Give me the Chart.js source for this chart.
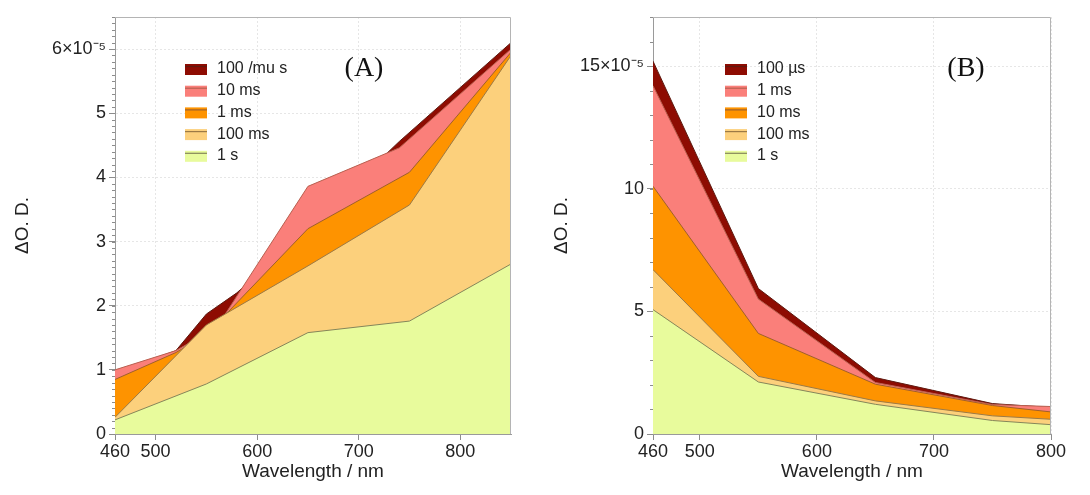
<!DOCTYPE html>
<html><head><meta charset="utf-8">
<script src="https://cdn.jsdelivr.net/npm/chart.js@4.4.1/dist/chart.umd.min.js"></script>
<style>
html,body{margin:0;padding:0;background:#fff}
body{width:1090px;height:495px;overflow:hidden;position:relative}
.box{position:absolute;top:0;width:545px;height:495px}
.tag{position:absolute;font-family:"Liberation Serif","Times New Roman",serif;font-size:28px;color:#111;transform:translate(-50%,-50%);white-space:nowrap}
</style></head><body>
<div class="box" style="left:0"><canvas id="ca" width="545" height="495"></canvas></div>
<div class="box" style="left:545px"><canvas id="cb" width="545" height="495"></canvas></div>
<div class="tag" style="left:364px;top:67px">(A)</div>
<div class="tag" style="left:966px;top:67px">(B)</div>
<script>
// ---------- DATA (ΔO.D. in units of 1e-5) ----------
const labelsA = ['100 /mu s', '10 ms', '1 ms', '100 ms', '1 s'];
const labelsB = ['100 µs', '1 ms', '10 ms', '100 ms', '1 s'];

// Panel A
const wlA_100us = [460, 520, 550, 580, 650, 740, 850];
const odA_100us = [0.95, 1.30, 1.87, 2.20, 3.20, 4.56, 6.10];
const wlA_10ms  = [460, 520, 560, 650, 740, 850];
const odA_10ms  = [1.00, 1.30, 1.66, 3.86, 4.46, 6.00];
const wlA_1ms   = [460, 520, 550, 650, 750, 850];
const odA_1ms   = [0.85, 1.27, 1.55, 3.20, 4.08, 5.95];
const wlA_100ms = [460, 550, 650, 750, 850];
const odA_100ms = [0.26, 1.70, 2.62, 3.57, 5.90];
const wlA_1s    = [460, 550, 650, 750, 850];
const odA_1s    = [0.22, 0.78, 1.58, 1.76, 2.65];

// Panel B
const wlB = [460, 550, 650, 750, 800];
const odB_100us = [15.2, 5.93, 2.30, 1.24, 1.08];
const odB_1ms   = [14.2, 5.50, 2.10, 1.20, 1.12];
const odB_10ms  = [10.1, 4.10, 2.03, 1.16, 0.90];
const odB_100ms = [6.70, 2.35, 1.35, 0.74, 0.60];
const odB_1s    = [5.07, 2.12, 1.21, 0.55, 0.38];

// Tick labels
const xTicksA = [460, 500, 600, 700, 800];
const xTicksB = [460, 500, 600, 700, 800];
const yTicksA = [0, 1, 2, 3, 4, 5, 6];
const yTicksB = [0, 5, 10, 15];
const yTopLabelA = 6, yTopLabelB = 15;
const yMinorStepA = 0.1, yMinorStepB = 1;

// ---------- STYLES ----------
const fills   = ['#8e0c02', '#fa7f7a', '#fe9300', '#fcd07c', '#e8fb9c'];
const strokes = ['#5e1a10', '#b86050', '#a0602a', '#9c7a45', '#85865a'];

Chart.defaults.font.family = '"Liberation Sans", Arial, sans-serif';
Chart.defaults.color = '#222';

function pts(xs, ys) { return xs.map((x, i) => ({x: x, y: ys[i]})); }

function makeDatasets(labels, series) {
  return series.map((s, i) => ({
    label: labels[i],
    data: pts(s[0], s[1]),
    backgroundColor: fills[i],
    borderColor: strokes[i],
    borderWidth: 1,
    pointRadius: 0,
    tension: 0,
    fill: 'origin',
    order: series.length - i   // first listed drawn in back
  }));
}

const decor = {
  id: 'decor',
  afterDraw(chart, args, o) {
    const {ctx, chartArea: ca} = chart;
    const y = chart.scales.y;
    ctx.save();
    // frame top & right
    ctx.strokeStyle = '#b4b4b4'; ctx.lineWidth = 1;
    ctx.beginPath();
    ctx.moveTo(ca.left, ca.top + 0.5); ctx.lineTo(ca.right - 0.5, ca.top + 0.5); ctx.lineTo(ca.right - 0.5, ca.bottom);
    ctx.stroke();
    // minor ticks
    ctx.strokeStyle = '#8c8c8c';
    ctx.beginPath();
    for (let v = 0; v <= y.max + 1e-9; v += o.minorStep) {
      const py = Math.round(y.getPixelForValue(v)) + 0.5;
      ctx.moveTo(ca.left - 3, py); ctx.lineTo(ca.left, py);
    }
    ctx.stroke();
    // legend
    ctx.font = '16px "Liberation Sans", Arial, sans-serif';
    ctx.textBaseline = 'middle';
    ctx.textAlign = 'left';
    chart.data.datasets.forEach((d, i) => {
      const cy = o.legY + i * o.legDy;
      ctx.fillStyle = d.backgroundColor;
      ctx.fillRect(o.legX, cy - 5, 22, 11);
      ctx.strokeStyle = d.borderColor; ctx.lineWidth = 1.2;
      ctx.beginPath(); ctx.moveTo(o.legX, cy - 2.5); ctx.lineTo(o.legX + 22, cy - 2.5); ctx.stroke();
      ctx.fillStyle = '#222';
      ctx.fillText(d.label, o.legX + 32, cy);
    });
    ctx.restore();
  }
};

function build(id, labels, series, xmin, xmax, xTicks, ymax, yTicks, yTop, minorStep, yWidth, padRight, yTitlePad, legX) {
  return new Chart(document.getElementById(id), {
    type: 'line',
    data: {datasets: makeDatasets(labels, series)},
    options: {
      responsive: false, animation: false, devicePixelRatio: 1,
      layout: {padding: {top: 17, right: padRight, left: 0, bottom: 0}},
      plugins: {
        legend: {display: false}, tooltip: {enabled: false},
        filler: {drawTime: 'beforeDatasetDraw'},
        decor: {minorStep: minorStep, legX: legX, legY: 69, legDy: 21.7}
      },
      scales: {
        x: {
          type: 'linear', min: xmin, max: xmax,
          afterBuildTicks: s => { s.ticks = xTicks.map(v => ({value: v})); },
          afterFit: s => { s.height = 61; },
          ticks: {font: {size: 18}, color: '#222', padding: 1, maxRotation: 0, autoSkip: false},
          grid: {color: c => (c.tick && c.tick.value === xmin) ? 'rgba(0,0,0,0)' : '#e6e6e6',
                 tickColor: '#8c8c8c', tickLength: 6, tickBorderDash: [], drawTicks: true},
          border: {color: '#9a9a9a', dash: [2, 2]},
          title: {display: true, text: 'Wavelength / nm', font: {size: 19}, color: '#222', padding: {top: 0, bottom: 12}}
        },
        y: {
          min: 0, max: ymax,
          afterBuildTicks: s => { s.ticks = yTicks.map(v => ({value: v})); },
          afterFit: s => { s.width = yWidth; },
          ticks: {font: {size: 18}, color: '#222', padding: 3,
                  callback: v => v === yTop ? v + '×10⁻⁵' : String(v)},
          grid: {color: c => (c.tick && c.tick.value === 0) ? 'rgba(0,0,0,0)' : '#e6e6e6',
                 tickColor: '#8c8c8c', tickLength: 6, tickBorderDash: [], drawTicks: true},
          border: {color: '#9a9a9a', dash: [2, 2]},
          title: {display: true, text: 'ΔO. D.', font: {size: 19}, color: '#222', padding: {top: yTitlePad, bottom: 0}}
        }
      }
    },
    plugins: [decor]
  });
}

build('ca', labelsA,
  [[wlA_100us, odA_100us], [wlA_10ms, odA_10ms], [wlA_1ms, odA_1ms], [wlA_100ms, odA_100ms], [wlA_1s, odA_1s]],
  460, 850, xTicksA, 6.5, yTicksA, yTopLabelA, yMinorStepA, 115, 34, 11, 185);

build('cb', labelsB,
  [[wlB, odB_100us], [wlB, odB_1ms], [wlB, odB_10ms], [wlB, odB_100ms], [wlB, odB_1s]],
  460, 800, xTicksB, 17, yTicksB, yTopLabelB, yMinorStepB, 108, 39, 5, 180);
</script>
</body></html>
